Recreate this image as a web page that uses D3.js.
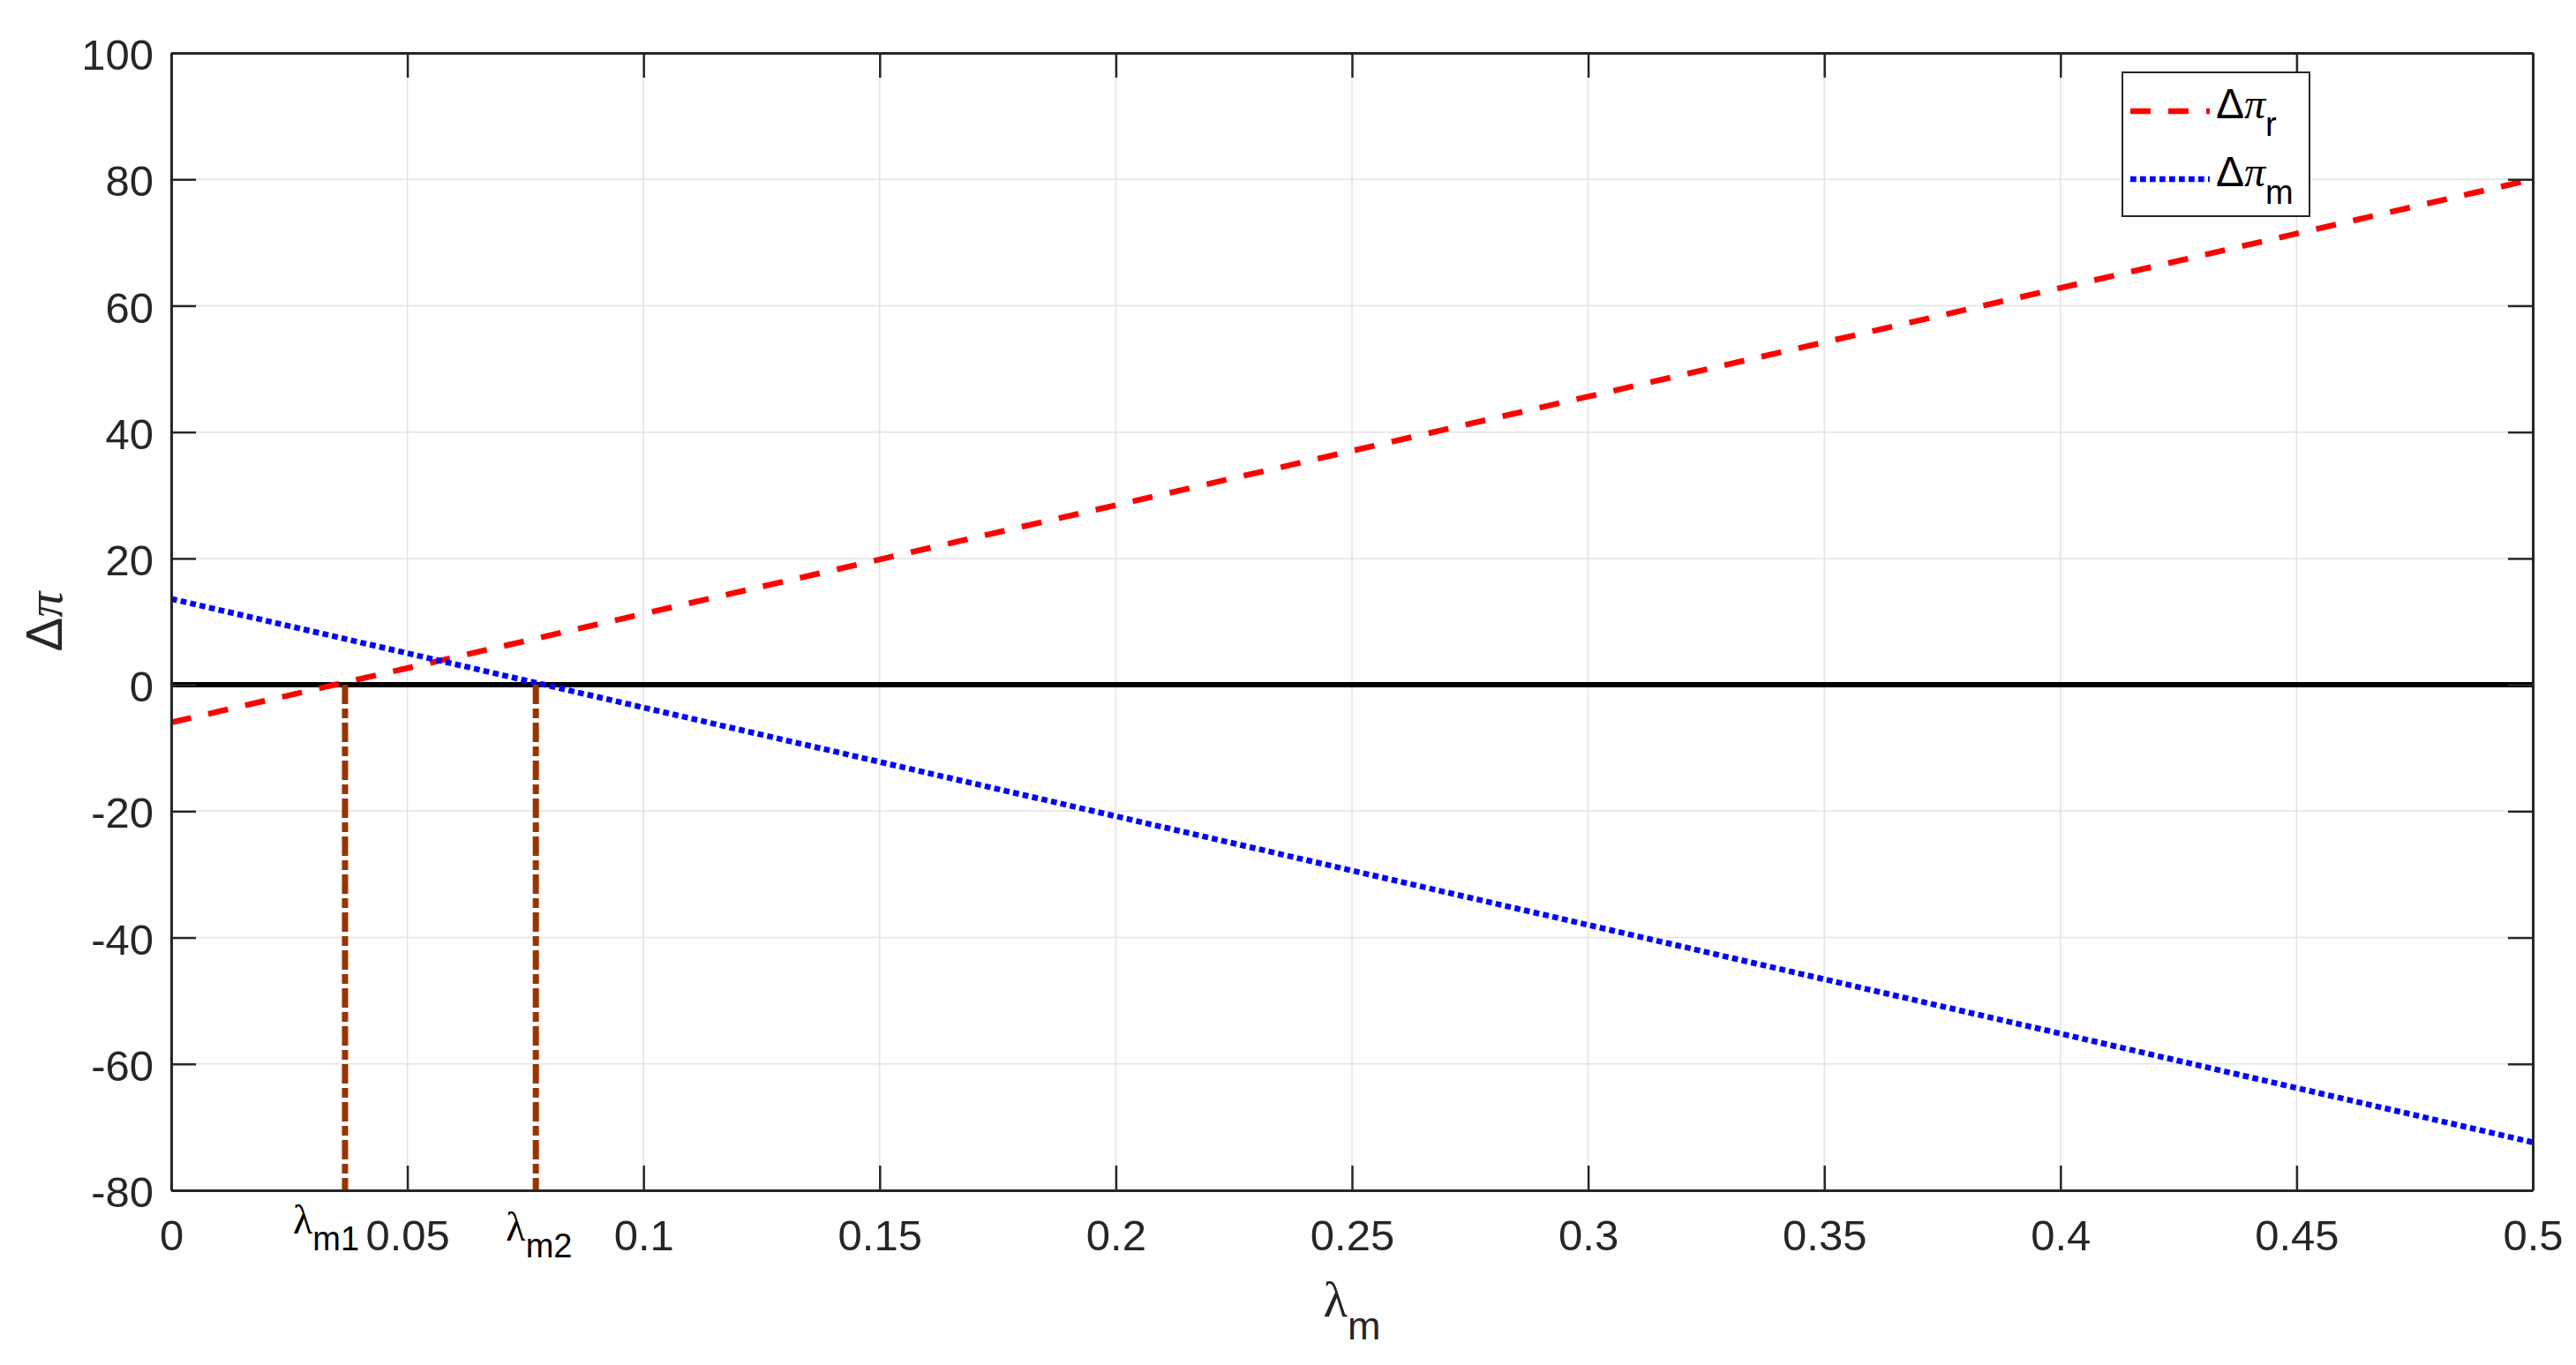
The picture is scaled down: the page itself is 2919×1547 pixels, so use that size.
<!DOCTYPE html>
<html>
<head>
<meta charset="utf-8">
<script src="https://cdn.jsdelivr.net/npm/d3@7"></script>
<style>
  body { margin: 0; background: #fff; }
  svg { display: block; }
  text { font-family: "Liberation Sans", Arial, sans-serif; }
</style>
</head>
<body>
<div id="chart"></div>
<script>
// values
const lambdaM = [0, 0.5];
const deltaPiR = [-5.95, 80];
const deltaPiM = [13.6, -72.4];
const zeroLine = [0, 0];

const xTicks = [0, 0.05, 0.1, 0.15, 0.2, 0.25, 0.3, 0.35, 0.4, 0.45, 0.5];
const xTickLabels = ["0", "0.05", "0.1", "0.15", "0.2", "0.25", "0.3", "0.35", "0.4", "0.45", "0.5"];
const yTicks = [-80, -60, -40, -20, 0, 20, 40, 60, 80, 100];
const yTickLabels = ["-80", "-60", "-40", "-20", "0", "20", "40", "60", "80", "100"];

// critical lambda values (dash-dot drops) and their text labels
const lambdaCrit = [0.0368, 0.0772];
const lambdaCritSub = ["m1", "m2"];
const lambdaLabelX = [0.0328, 0.0779];
const lambdaLabelY = [-86.84, -87.95];

const seriesSub = ["r", "m"];
const seriesColors = ["#ff0000", "#0000ff"];
const seriesDash = ["23,20", "6.7,4.3"];

const W = 2919, H = 1547;
const margin = { top: 60, right: 49, bottom: 198, left: 194 };
const axisColor = "#262626";

const xScale = d3.scaleLinear().domain([0, 0.5]).range([margin.left, W - margin.right]);
const yScale = d3.scaleLinear().domain([-80, 100]).range([H - margin.bottom, margin.top]);

const svg = d3.select("#chart").append("svg")
  .attr("width", W)
  .attr("height", H)
  .style("background", "#fff");

// grid
const grid = svg.append("g").attr("class", "grid");
grid.selectAll("line.gx").data(xTicks).enter().append("line")
  .attr("x1", d => xScale(d)).attr("x2", d => xScale(d))
  .attr("y1", yScale(100)).attr("y2", yScale(-80))
  .attr("stroke", "#e2e2e2").attr("stroke-width", 1.5);
grid.selectAll("line.gy").data(yTicks).enter().append("line")
  .attr("y1", d => yScale(d)).attr("y2", d => yScale(d))
  .attr("x1", xScale(0)).attr("x2", xScale(0.5))
  .attr("stroke", "#e2e2e2").attr("stroke-width", 1.5);

const line = d3.line()
  .x(d => xScale(d[0]))
  .y(d => yScale(d[1]));

// zero line
svg.append("path")
  .attr("d", line(d3.zip(lambdaM, zeroLine)))
  .attr("stroke", "#000")
  .attr("stroke-width", 6)
  .attr("fill", "none");

// the two profit-difference lines
[deltaPiR, deltaPiM].forEach((vals, i) => {
  svg.append("path")
    .attr("d", line(d3.zip(lambdaM, vals)))
    .attr("stroke", seriesColors[i])
    .attr("stroke-width", 6.5)
    .attr("stroke-dasharray", seriesDash[i])
    .attr("fill", "none");
});

// dash-dot drops at lambda_m1, lambda_m2
svg.selectAll("line.crit").data(lambdaCrit).enter().append("line")
  .attr("class", "crit")
  .attr("x1", d => xScale(d)).attr("x2", d => xScale(d))
  .attr("y1", yScale(0)).attr("y2", yScale(-80))
  .attr("stroke", "#993300")
  .attr("stroke-width", 7)
  .attr("stroke-dasharray", "22,5,11,5");

// axes, ticks pointing inwards, box on all four sides
const tickLen = 28;
const bottomAxis = d3.axisBottom(xScale).tickValues(xTicks)
  .tickFormat((d, i) => xTickLabels[i]).tickSizeInner(-tickLen).tickSizeOuter(0).tickPadding(33);
const leftAxis = d3.axisLeft(yScale).tickValues(yTicks)
  .tickFormat((d, i) => yTickLabels[i]).tickSizeInner(-tickLen).tickSizeOuter(0).tickPadding(20);
const topAxis = d3.axisTop(xScale).tickValues(xTicks)
  .tickFormat("").tickSizeInner(-tickLen).tickSizeOuter(0);
const rightAxis = d3.axisRight(yScale).tickValues(yTicks)
  .tickFormat("").tickSizeInner(-tickLen).tickSizeOuter(0);

const styleAxis = g => {
  g.select(".domain").attr("stroke", axisColor).attr("stroke-width", 3);
  g.selectAll(".tick line").attr("stroke", axisColor).attr("stroke-width", 2.5);
  g.selectAll(".tick text")
    .attr("fill", axisColor)
    .style("font-size", "49px")
    .style("font-family", '"Liberation Sans", Arial, sans-serif');
};

svg.append("g").attr("transform", `translate(0, ${yScale(-80)})`).call(bottomAxis).call(styleAxis);
svg.append("g").attr("transform", `translate(${xScale(0)}, 0)`).call(leftAxis).call(styleAxis)
  .selectAll(".tick text").attr("dy", "0.38em");
svg.append("g").attr("transform", `translate(0, ${yScale(100)})`).call(topAxis).call(styleAxis);
svg.append("g").attr("transform", `translate(${xScale(0.5)}, 0)`).call(rightAxis).call(styleAxis);

// lambda_m1 / lambda_m2 text labels under the axis
lambdaCrit.forEach((d, i) => {
  const t = svg.append("text")
    .attr("x", xScale(lambdaLabelX[i]))
    .attr("y", yScale(lambdaLabelY[i]))
    .attr("text-anchor", "middle")
    .attr("fill", "#000");
  t.append("tspan")
    .style("font-family", '"Liberation Serif", "Times New Roman", serif')
    .style("font-size", "46px")
    .text("λ");
  t.append("tspan")
    .attr("dy", 19)
    .style("font-size", "38px")
    .text(lambdaCritSub[i]);
});

// axis labels
const xLabel = svg.append("text")
  .attr("x", (xScale(0) + xScale(0.5)) / 2)
  .attr("y", 1492)
  .attr("text-anchor", "middle")
  .attr("fill", axisColor);
xLabel.append("tspan")
  .style("font-family", '"Liberation Serif", "Times New Roman", serif')
  .style("font-size", "57px")
  .text("λ");
xLabel.append("tspan")
  .attr("dy", 26)
  .style("font-size", "45px")
  .text("m");

const yLabel = svg.append("text")
  .attr("transform", `translate(70, ${(yScale(100) + yScale(-80)) / 2}) rotate(-90)`)
  .attr("text-anchor", "middle")
  .attr("fill", axisColor)
  .style("font-size", "58px");
yLabel.append("tspan").text("Δ");
yLabel.append("tspan")
  .style("font-family", '"Liberation Serif", "Times New Roman", serif')
  .style("font-style", "italic")
  .text("π");

// legend
const legend = svg.append("g").attr("class", "legend");
legend.append("rect")
  .attr("x", 2405).attr("y", 82)
  .attr("width", 212).attr("height", 163)
  .attr("fill", "#fff")
  .attr("stroke", axisColor)
  .attr("stroke-width", 2);

seriesSub.forEach((sub, i) => {
  const ly = 126 + i * 77;
  legend.append("line")
    .attr("x1", 2414).attr("x2", 2504)
    .attr("y1", ly).attr("y2", ly)
    .attr("stroke", seriesColors[i])
    .attr("stroke-width", 6.5)
    .attr("stroke-dasharray", seriesDash[i]);
  const t = legend.append("text")
    .attr("x", 2511)
    .attr("y", ly + 8)
    .attr("fill", "#000")
    .style("font-size", "48px");
  t.append("tspan").text("Δ");
  t.append("tspan")
    .style("font-family", '"Liberation Serif", "Times New Roman", serif')
    .style("font-style", "italic")
    .text("π");
  t.append("tspan")
    .attr("dy", 20)
    .style("font-size", "38px")
    .text(sub);
});
</script>
</body>
</html>
